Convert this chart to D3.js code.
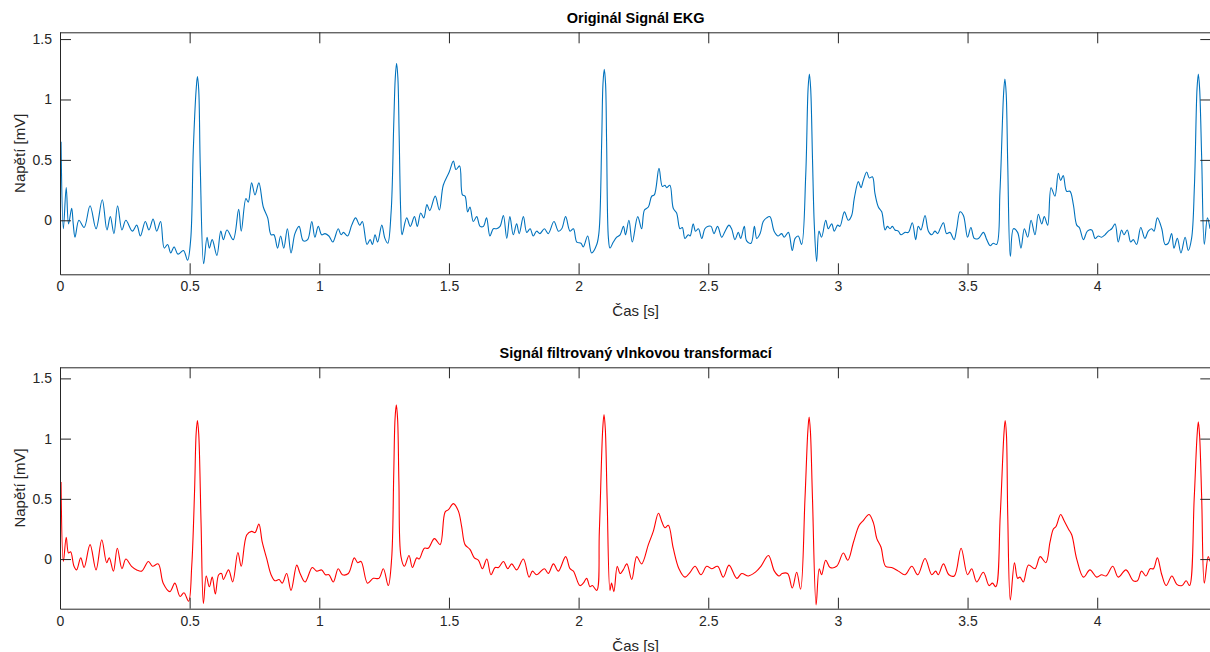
<!DOCTYPE html>
<html>
<head>
<meta charset="utf-8">
<script src="https://cdn.jsdelivr.net/npm/d3@7"></script>
<style>
  body { margin: 0; background: #fff; }
  svg { display: block; }
  text { font-family: "Liberation Sans", Arial, Helvetica, sans-serif; }
</style>
</head>
<body>
<svg id="chart" width="1210" height="652"></svg>
<script>
// Raw ECG trace: [time s, voltage mV]
const rawSamples = [
  [0.004,0.65],[0.013,-0.07],[0.024,0.27],[0.033,-0.03],[0.045,0.10],[0.051,-0.03],[0.058,-0.14],[0.073,0.00],[0.093,-0.06],[0.116,0.12],
  [0.139,-0.07],[0.163,0.17],[0.181,-0.08],[0.194,0.03],[0.208,-0.11],[0.222,0.12],[0.239,-0.08],[0.254,0.00],[0.279,-0.09],[0.296,-0.04],
  [0.310,-0.13],[0.329,-0.01],[0.343,-0.08],[0.359,0.01],[0.373,-0.09],[0.388,-0.01],[0.402,-0.23],[0.415,-0.20],[0.427,-0.27],[0.440,-0.22],
  [0.455,-0.28],[0.476,-0.25],[0.492,-0.33],[0.504,-0.16],[0.514,0.58],[0.525,1.08],[0.530,1.19],[0.535,1.08],[0.541,0.44],[0.554,-0.36],
  [0.567,-0.14],[0.576,-0.23],[0.587,-0.16],[0.605,-0.29],[0.620,-0.09],[0.630,-0.16],[0.644,-0.08],[0.668,-0.16],[0.689,0.09],[0.699,-0.09],
  [0.717,0.18],[0.726,0.15],[0.739,0.31],[0.752,0.21],[0.767,0.31],[0.784,0.11],[0.801,0.02],[0.814,-0.12],[0.825,-0.12],[0.839,-0.23],
  [0.851,-0.13],[0.863,-0.23],[0.877,-0.07],[0.891,-0.27],[0.906,-0.11],[0.922,-0.05],[0.938,-0.17],[0.955,-0.16],[0.971,-0.01],[0.983,-0.14],
  [0.996,-0.05],[1.009,-0.12],[1.022,-0.11],[1.037,-0.13],[1.052,-0.18],[1.073,-0.07],[1.084,-0.12],[1.093,-0.10],[1.109,-0.13],[1.125,-0.04],
  [1.140,0.02],[1.156,-0.04],[1.166,-0.01],[1.184,-0.20],[1.196,-0.16],[1.205,-0.20],[1.215,-0.12],[1.225,-0.18],[1.241,-0.04],[1.253,-0.15],
  [1.264,-0.19],[1.277,0.07],[1.287,0.79],[1.293,1.18],[1.298,1.30],[1.303,1.18],[1.308,0.70],[1.314,0.07],[1.319,-0.12],[1.337,0.02],
  [1.351,-0.05],[1.367,0.03],[1.378,-0.05],[1.391,0.06],[1.403,0.02],[1.415,0.13],[1.426,0.08],[1.447,0.20],[1.463,0.085],[1.478,0.29],
  [1.501,0.40],[1.517,0.49],[1.527,0.42],[1.541,0.45],[1.552,0.21],[1.562,0.20],[1.572,0.07],[1.581,0.11],[1.594,-0.01],[1.607,0.03],
  [1.620,-0.05],[1.633,-0.05],[1.645,0.02],[1.658,-0.13],[1.671,-0.07],[1.684,-0.07],[1.697,-0.05],[1.710,0.04],[1.723,-0.15],[1.735,0.03],
  [1.748,-0.12],[1.761,-0.03],[1.771,-0.11],[1.787,0.03],[1.800,-0.10],[1.813,-0.07],[1.825,-0.13],[1.838,-0.09],[1.851,-0.11],[1.868,-0.07],
  [1.883,-0.11],[1.905,-0.01],[1.922,-0.09],[1.935,-0.07],[1.950,0.03],[1.967,-0.09],[1.980,-0.07],[1.993,-0.18],[2.009,-0.19],[2.018,-0.22],
  [2.035,-0.13],[2.050,-0.27],[2.070,-0.20],[2.079,-0.09],[2.089,0.65],[2.094,1.13],[2.099,1.25],[2.104,1.13],[2.108,0.65],[2.115,-0.15],
  [2.121,-0.23],[2.134,-0.18],[2.147,-0.14],[2.160,-0.12],[2.173,-0.05],[2.181,-0.12],[2.194,0.00],[2.207,-0.18],[2.228,0.03],[2.243,-0.07],
  [2.254,0.085],[2.269,0.11],[2.282,0.20],[2.292,0.21],[2.310,0.43],[2.323,0.28],[2.333,0.29],[2.340,0.27],[2.352,0.29],[2.365,0.10],
  [2.378,0.06],[2.391,-0.07],[2.400,-0.06],[2.410,-0.15],[2.423,-0.12],[2.430,-0.13],[2.442,-0.03],[2.451,-0.09],[2.462,-0.07],[2.475,-0.15],
  [2.487,-0.07],[2.500,-0.05],[2.511,-0.05],[2.522,-0.11],[2.536,-0.05],[2.552,-0.14],[2.565,-0.09],[2.580,-0.04],[2.590,-0.07],[2.603,-0.16],
  [2.616,-0.10],[2.625,-0.15],[2.639,-0.05],[2.648,-0.17],[2.665,-0.19],[2.678,-0.05],[2.687,-0.15],[2.700,-0.11],[2.712,-0.01],[2.725,0.02],
  [2.738,0.03],[2.754,-0.09],[2.770,-0.13],[2.783,-0.11],[2.793,-0.14],[2.809,-0.10],[2.824,-0.25],[2.835,-0.15],[2.847,-0.13],[2.860,-0.20],
  [2.876,0.38],[2.885,1.09],[2.890,1.21],[2.895,1.09],[2.902,0.51],[2.909,-0.04],[2.918,-0.34],[2.927,-0.09],[2.937,-0.14],[2.953,0.00],
  [2.963,-0.07],[2.976,-0.03],[2.986,-0.09],[2.999,-0.04],[3.008,-0.05],[3.025,0.07],[3.040,0.00],[3.053,0.04],[3.063,0.18],[3.079,0.32],
  [3.089,0.27],[3.098,0.33],[3.111,0.40],[3.121,0.35],[3.133,0.36],[3.143,0.22],[3.156,0.11],[3.169,0.07],[3.182,-0.08],[3.191,-0.05],
  [3.201,-0.07],[3.210,-0.05],[3.220,-0.08],[3.233,-0.09],[3.243,-0.12],[3.259,-0.10],[3.272,-0.10],[3.287,-0.02],[3.300,-0.16],[3.310,-0.05],
  [3.320,-0.08],[3.336,0.04],[3.349,-0.09],[3.362,-0.12],[3.374,-0.09],[3.385,-0.11],[3.394,-0.07],[3.407,-0.02],[3.419,-0.11],[3.432,-0.10],
  [3.448,-0.16],[3.458,-0.07],[3.471,0.07],[3.484,0.04],[3.500,-0.14],[3.513,-0.06],[3.526,-0.15],[3.542,-0.15],[3.561,-0.10],[3.574,-0.16],
  [3.587,-0.21],[3.599,-0.19],[3.612,-0.20],[3.625,0.24],[3.639,1.05],[3.644,1.17],[3.649,1.05],[3.655,0.46],[3.665,-0.30],[3.677,-0.07],
  [3.693,-0.10],[3.706,-0.23],[3.719,-0.07],[3.732,-0.14],[3.745,0.00],[3.760,-0.12],[3.773,0.05],[3.786,-0.03],[3.796,0.03],[3.809,-0.04],
  [3.822,0.27],[3.837,0.20],[3.850,0.39],[3.859,0.33],[3.869,0.37],[3.882,0.24],[3.895,0.24],[3.908,0.13],[3.921,-0.04],[3.931,-0.06],
  [3.947,-0.16],[3.962,-0.09],[3.979,-0.08],[3.992,-0.15],[4.004,-0.13],[4.017,-0.14],[4.030,-0.12],[4.043,-0.09],[4.056,-0.07],[4.069,-0.03],
  [4.081,-0.18],[4.094,-0.08],[4.103,-0.12],[4.116,-0.08],[4.129,-0.18],[4.139,-0.16],[4.152,-0.20],[4.168,-0.06],[4.184,-0.15],[4.197,-0.09],
  [4.210,-0.07],[4.219,-0.09],[4.232,0.02],[4.249,-0.07],[4.262,-0.20],[4.274,-0.19],[4.287,-0.11],[4.296,-0.23],[4.309,-0.15],[4.323,-0.27],
  [4.339,-0.14],[4.351,-0.25],[4.364,-0.15],[4.375,0.29],[4.385,1.09],[4.390,1.21],[4.395,1.09],[4.403,0.51],[4.413,-0.20],[4.425,0.02],
  [4.435,-0.07]
];

// Wavelet-filtered trace: [time s, voltage mV]
const filtSamples = [
  [0.004,0.64],[0.013,-0.02],[0.024,0.18],[0.033,0.05],[0.041,0.06],[0.054,-0.06],[0.064,-0.09],[0.080,0.01],[0.093,-0.07],[0.116,0.12],
  [0.139,-0.09],[0.161,0.16],[0.180,-0.03],[0.190,0.01],[0.206,-0.10],[0.221,0.09],[0.239,-0.08],[0.254,0.00],[0.276,-0.06],[0.296,-0.09],
  [0.315,-0.10],[0.341,-0.02],[0.357,-0.06],[0.379,-0.04],[0.398,-0.20],[0.424,-0.27],[0.443,-0.20],[0.463,-0.31],[0.478,-0.28],[0.496,-0.35],
  [0.508,-0.06],[0.519,0.57],[0.525,1.04],[0.530,1.15],[0.535,1.04],[0.544,0.30],[0.553,-0.37],[0.564,-0.14],[0.576,-0.23],[0.587,-0.15],
  [0.599,-0.29],[0.612,-0.13],[0.623,-0.12],[0.630,-0.17],[0.650,-0.09],[0.666,-0.19],[0.686,0.055],[0.699,-0.06],[0.720,0.20],[0.739,0.23],
  [0.752,0.22],[0.767,0.29],[0.780,0.14],[0.797,0.005],[0.814,-0.13],[0.829,-0.18],[0.845,-0.17],[0.857,-0.20],[0.874,-0.12],[0.891,-0.26],
  [0.913,-0.05],[0.926,-0.12],[0.945,-0.19],[0.973,-0.07],[0.990,-0.10],[1.009,-0.09],[1.024,-0.13],[1.037,-0.13],[1.054,-0.19],[1.073,-0.08],
  [1.089,-0.13],[1.112,-0.12],[1.135,0.01],[1.148,-0.03],[1.161,-0.02],[1.186,-0.20],[1.208,-0.16],[1.230,-0.16],[1.247,-0.08],[1.266,-0.22],
  [1.279,0.005],[1.287,0.70],[1.292,1.16],[1.297,1.28],[1.302,1.16],[1.307,0.64],[1.315,0.02],[1.328,-0.06],[1.346,0.03],[1.359,-0.07],
  [1.376,0.01],[1.385,0.00],[1.405,0.09],[1.420,0.09],[1.444,0.17],[1.466,0.12],[1.485,0.39],[1.498,0.41],[1.517,0.46],[1.536,0.40],
  [1.549,0.27],[1.562,0.12],[1.581,0.08],[1.598,0.01],[1.614,-0.01],[1.629,-0.08],[1.646,0.00],[1.662,-0.13],[1.678,-0.07],[1.691,-0.07],
  [1.710,-0.02],[1.727,-0.08],[1.742,-0.04],[1.761,-0.09],[1.787,0.00],[1.809,-0.15],[1.822,-0.10],[1.838,-0.13],[1.868,-0.08],[1.883,-0.12],
  [1.903,-0.04],[1.922,-0.10],[1.950,0.02],[1.967,-0.08],[1.980,-0.10],[2.005,-0.22],[2.018,-0.20],[2.031,-0.16],[2.044,-0.23],[2.053,-0.22],
  [2.070,-0.26],[2.080,0.23],[2.093,1.08],[2.098,1.20],[2.103,1.08],[2.110,0.50],[2.121,-0.26],[2.127,-0.20],[2.136,-0.27],[2.149,-0.06],
  [2.160,-0.12],[2.172,-0.09],[2.186,-0.04],[2.205,-0.17],[2.224,0.02],[2.243,-0.04],[2.269,0.12],[2.288,0.23],[2.308,0.38],[2.321,0.31],
  [2.333,0.26],[2.346,0.28],[2.365,0.09],[2.387,-0.08],[2.410,-0.15],[2.430,-0.11],[2.449,-0.06],[2.472,-0.13],[2.494,-0.06],[2.513,-0.08],
  [2.536,-0.06],[2.558,-0.15],[2.580,-0.05],[2.610,-0.16],[2.629,-0.12],[2.655,-0.14],[2.681,-0.11],[2.703,-0.06],[2.732,0.03],[2.755,-0.10],
  [2.773,-0.14],[2.785,-0.12],[2.806,-0.12],[2.824,-0.24],[2.841,-0.11],[2.856,-0.25],[2.873,0.50],[2.884,1.06],[2.889,1.18],[2.894,1.06],
  [2.902,0.50],[2.916,-0.38],[2.928,-0.08],[2.937,-0.13],[2.953,-0.01],[2.970,-0.07],[2.995,-0.06],[3.021,0.05],[3.038,-0.01],[3.060,0.14],
  [3.082,0.28],[3.098,0.32],[3.120,0.37],[3.137,0.30],[3.150,0.17],[3.166,0.10],[3.184,-0.06],[3.207,-0.07],[3.233,-0.10],[3.259,-0.13],
  [3.285,-0.06],[3.308,-0.13],[3.336,0.005],[3.362,-0.13],[3.377,-0.10],[3.387,-0.13],[3.407,-0.04],[3.428,-0.13],[3.449,-0.14],[3.475,0.09],
  [3.500,-0.13],[3.516,-0.08],[3.535,-0.19],[3.561,-0.11],[3.583,-0.22],[3.596,-0.20],[3.609,-0.23],[3.626,0.36],[3.640,1.03],[3.645,1.15],
  [3.650,1.03],[3.655,0.36],[3.665,-0.34],[3.681,-0.03],[3.693,-0.16],[3.702,-0.15],[3.715,-0.19],[3.735,-0.05],[3.760,-0.08],[3.780,0.02],
  [3.802,-0.03],[3.818,0.14],[3.831,0.25],[3.841,0.27],[3.859,0.37],[3.872,0.32],[3.889,0.25],[3.902,0.20],[3.921,0.00],[3.947,-0.15],
  [3.972,-0.09],[3.998,-0.15],[4.017,-0.13],[4.034,-0.14],[4.060,-0.06],[4.081,-0.15],[4.111,-0.09],[4.139,-0.18],[4.155,-0.18],[4.171,-0.10],
  [4.188,-0.14],[4.204,-0.08],[4.217,-0.08],[4.232,0.01],[4.249,-0.13],[4.266,-0.22],[4.288,-0.14],[4.307,-0.21],[4.327,-0.22],[4.343,-0.18],
  [4.356,-0.22],[4.374,0.50],[4.385,1.02],[4.390,1.14],[4.395,1.02],[4.403,0.50],[4.413,-0.20],[4.428,0.02],[4.435,-0.02]
];

// Axis ticks and labels
const xTicks = [0, 0.5, 1, 1.5, 2, 2.5, 3, 3.5, 4];
const xTickLabels = ["0", "0.5", "1", "1.5", "2", "2.5", "3", "3.5", "4"];
const yTicks = [0, 0.5, 1, 1.5];
const yTickLabels = ["0", "0.5", "1", "1.5"];

const panels = [
  { title: "Originál Signál EKG", samples: rawSamples, color: "#0072BD",
    top: 32.3, bottom: 274.3, yDomain: [-0.447, 1.556] },
  { title: "Signál filtrovaný vlnkovou transformací", samples: filtSamples, color: "#FF0000",
    top: 367.3, bottom: 608.7, yDomain: [-0.412, 1.592] }
];

const svg = d3.select("#chart");
const left = 60, right = 1211.3;
const axisColor = "#262626";
const tickLen = 11;

const x = d3.scaleLinear().domain([0, 4.44]).range([left, right]);

panels.forEach((p, i) => {
  const y = d3.scaleLinear().domain(p.yDomain).range([p.bottom, p.top]);
  const g = svg.append("g");

  const clipId = "clip" + i;
  svg.append("clipPath").attr("id", clipId)
    .append("rect").attr("x", left).attr("y", p.top).attr("width", right - left).attr("height", p.bottom - p.top);

  // signal trace
  const line = d3.line().x(d => x(d[0])).y(d => y(d[1])).curve(d3.curveCatmullRom.alpha(0.5));
  g.append("path").datum(p.samples)
    .attr("clip-path", `url(#${clipId})`)
    .attr("fill", "none").attr("stroke", p.color).attr("stroke-width", 1.1)
    .attr("stroke-linejoin", "round").attr("d", line);

  // boxed axes with inward ticks on all four sides
  const fmtX = d => xTickLabels[xTicks.indexOf(d)];
  const fmtY = d => yTickLabels[yTicks.indexOf(d)];

  const axB = g.append("g").attr("transform", `translate(0,${p.bottom})`)
    .call(d3.axisBottom(x).tickValues(xTicks).tickFormat(fmtX).tickSizeInner(-tickLen).tickSizeOuter(0).tickPadding(7));
  const axT = g.append("g").attr("transform", `translate(0,${p.top})`)
    .call(d3.axisTop(x).tickValues(xTicks).tickFormat("").tickSizeInner(-tickLen).tickSizeOuter(0));
  const axL = g.append("g").attr("transform", `translate(${left},0)`)
    .call(d3.axisLeft(y).tickValues(yTicks).tickFormat(fmtY).tickSizeInner(-tickLen).tickSizeOuter(0).tickPadding(8));
  const axR = g.append("g").attr("transform", `translate(${right},0)`)
    .call(d3.axisRight(y).tickValues(yTicks).tickFormat("").tickSizeInner(-tickLen).tickSizeOuter(0));

  [axB, axT, axL, axR].forEach(a => {
    a.selectAll(".domain").attr("stroke", axisColor).attr("stroke-width", 1);
    a.selectAll(".tick line").attr("stroke", axisColor).attr("stroke-width", 1);
    a.selectAll(".tick text").attr("fill", axisColor).attr("font-size", 14)
      .attr("font-family", "'Liberation Sans', Arial, Helvetica, sans-serif");
  });
  axB.selectAll(".tick text").attr("dy", "0.71em");

  // title and axis labels
  const cx = (left + right) / 2;
  svg.append("text").attr("x", cx).attr("y", p.top - 9)
    .attr("text-anchor", "middle").attr("font-size", 14.5).attr("font-weight", "bold").attr("fill", "#000")
    .text(p.title);
  svg.append("text").attr("x", cx).attr("y", p.bottom + 42)
    .attr("text-anchor", "middle").attr("font-size", 15).attr("fill", axisColor)
    .text("Čas [s]");
  svg.append("text")
    .attr("transform", `translate(25,${(p.top + p.bottom) / 2}) rotate(-90)`)
    .attr("text-anchor", "middle").attr("font-size", 15).attr("fill", axisColor)
    .text("Napětí [mV]");
});
</script>
</body>
</html>
